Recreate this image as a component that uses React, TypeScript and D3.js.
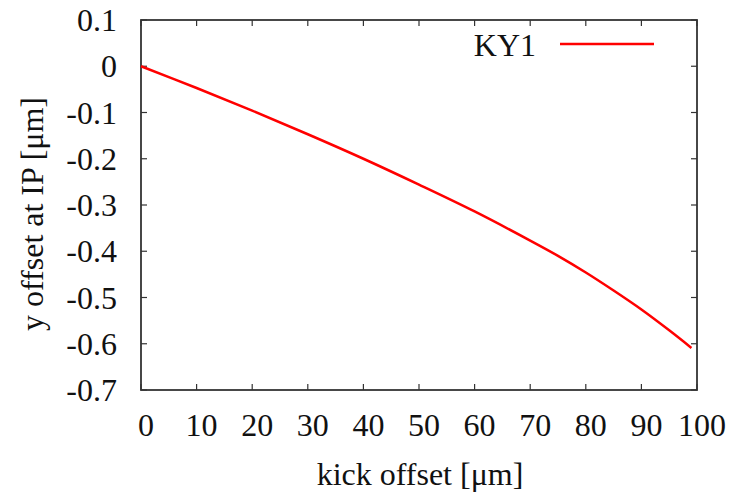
import React from 'react';
import * as d3 from 'd3';

// kick offset [um] vs y offset at IP [um]
const kickOffset = [0, 10, 20, 30, 40, 50, 60, 70, 75, 80, 85, 90, 95, 99];
const yOffset = [0, -0.047, -0.096, -0.147, -0.2, -0.256, -0.314, -0.377, -0.41, -0.446, -0.485, -0.526, -0.571, -0.609];
const xTicks = [0, 10, 20, 30, 40, 50, 60, 70, 80, 90, 100];
const yTicks = [0.1, 0, -0.1, -0.2, -0.3, -0.4, -0.5, -0.6, -0.7];
const seriesName = 'KY1';

const App = () => {
  const width = 736;
  const height = 498;
  const left = 141;
  const right = 697;
  const top = 20;
  const bottom = 390;

  const x = d3.scaleLinear().domain([0, 100]).range([left, right]);
  const y = d3.scaleLinear().domain([-0.7, 0.1]).range([bottom, top]);

  const line = d3
    .line<number>()
    .x((_, i) => x(kickOffset[i]))
    .y((d) => y(d))
    .curve(d3.curveCatmullRom);

  const font = '"Times New Roman", "Liberation Serif", serif';
  const fs = 32;
  const tick = 6;
  const axisColor = '#333';

  return (
    <svg width={width} height={height} style={{ position: 'absolute', left: 0, top: 0 }}>
      <rect width={width} height={height} fill="white" />
      {xTicks.map((t) => (
        <g key={'x' + t}>
          <line x1={x(t)} x2={x(t)} y1={bottom} y2={bottom - tick} stroke={axisColor} strokeWidth={1.2} />
          <line x1={x(t)} x2={x(t)} y1={top} y2={top + tick} stroke={axisColor} strokeWidth={1.2} />
          <text x={x(t) + 5} y={436} textAnchor="middle" fontFamily={font} fontSize={fs} fill="#111">
            {t}
          </text>
        </g>
      ))}
      {yTicks.map((t) => (
        <g key={'y' + t}>
          <line x1={left} x2={left + tick} y1={y(t)} y2={y(t)} stroke={axisColor} strokeWidth={1.2} />
          <line x1={right} x2={right - tick} y1={y(t)} y2={y(t)} stroke={axisColor} strokeWidth={1.2} />
          <text x={117} y={y(t) + 11} textAnchor="end" fontFamily={font} fontSize={fs} fill="#111">
            {String(+t.toFixed(1))}
          </text>
        </g>
      ))}
      <rect x={left} y={top} width={right - left} height={bottom - top} fill="none" stroke={axisColor} strokeWidth={1.8} />
      <path d={line(yOffset) ?? ''} fill="none" stroke="#ff0000" strokeWidth={2.5} />
      <text x={536} y={56} textAnchor="end" fontFamily={font} fontSize={fs} fill="#111">
        {seriesName}
      </text>
      <line x1={560} x2={654} y1={44} y2={44} stroke="#ff0000" strokeWidth={2.5} />
      <text x={420} y={485} textAnchor="middle" fontFamily={font} fontSize={fs} fill="#111">
        kick offset [μm]
      </text>
      <text
        transform={`translate(43,${(top + bottom) / 2 + 9}) rotate(-90)`}
        textAnchor="middle"
        fontFamily={font}
        fontSize={fs}
        fill="#111"
      >
        y offset at IP [μm]
      </text>
    </svg>
  );
};

export default App;
